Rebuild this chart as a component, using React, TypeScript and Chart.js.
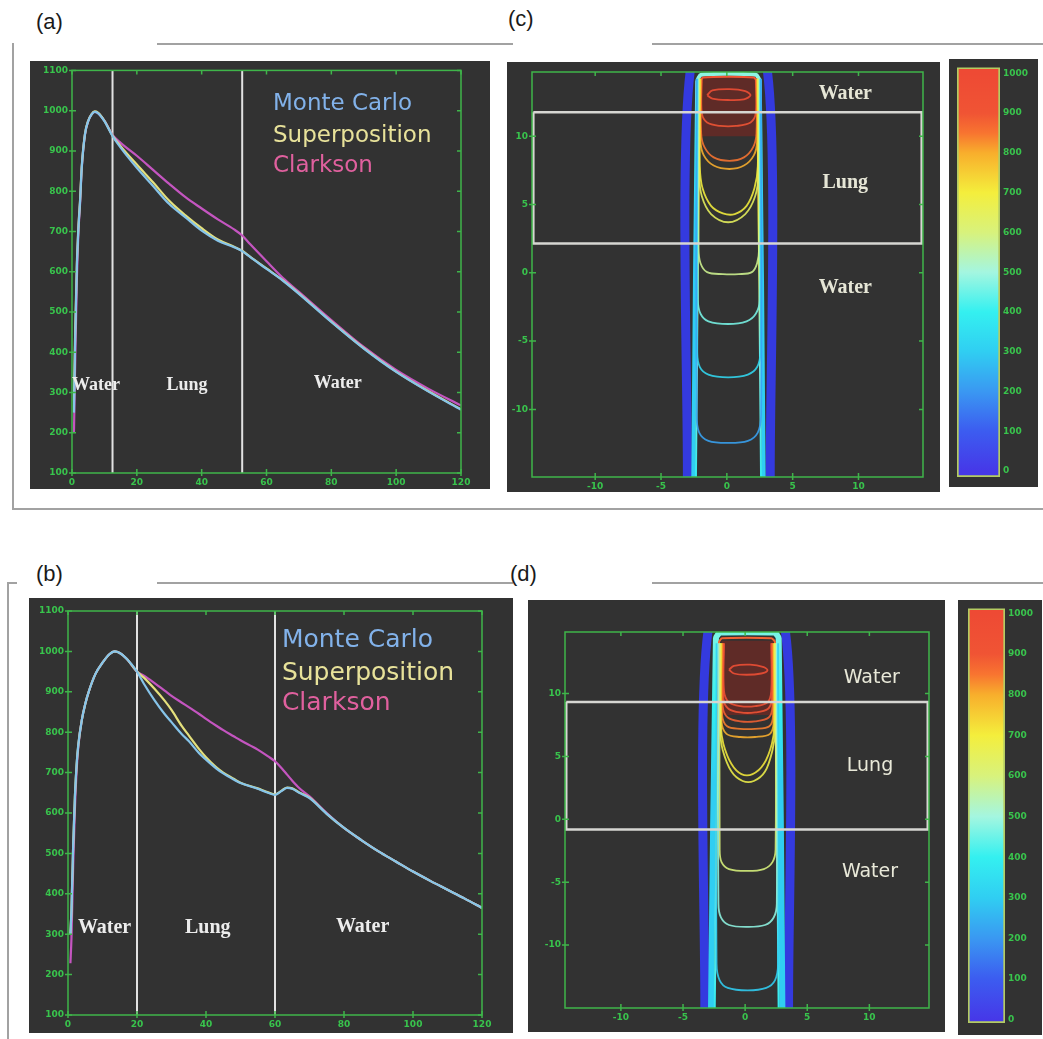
import React, { useEffect, useRef } from "react";
import { Chart, registerables } from "chart.js";
Chart.register(...registerables);

// ---------------- data ----------------
const SERIES_NAMES = ["Monte Carlo", "Superposition", "Clarkson"];
const SERIES_COLORS = ["#86c4ea", "#e4e07c", "#c455c0"];
const LEGEND_COLORS = ["#82b2ea", "#e8e29a", "#e0609e"];
const REGION_NAMES = ["Water", "Lung", "Water"];

const DEPTH_TICKS = [0, 20, 40, 60, 80, 100, 120];
const DOSE_TICKS = [100, 200, 300, 400, 500, 600, 700, 800, 900, 1000, 1100];
const MAP_TICKS = [-10, -5, 0, 5, 10];
const CBAR_TICKS = [0, 100, 200, 300, 400, 500, 600, 700, 800, 900, 1000];

// panel (a)
const DEPTH_A = [0.6, 1, 1.5, 2, 2.5, 3, 4, 5, 6, 7, 8, 10, 12.5, 15, 20, 25, 30, 35, 40, 45, 50, 52.5, 55, 60, 65, 70, 80, 90, 100, 110, 120];
const MC_A = [250, 440, 611, 710, 776, 858, 941, 974, 990, 997, 994, 974, 937, 908, 858, 813, 768, 735, 702, 677, 661, 651, 636, 607, 578, 545, 475, 409, 351, 302, 257];
const SP_A = [280, 460, 620, 715, 780, 860, 942, 975, 991, 998, 995, 975, 938, 912, 866, 822, 776, 740, 708, 680, 662, 652, 637, 608, 579, 546, 476, 410, 352, 303, 258];
const CL_A = [200, 380, 580, 700, 770, 855, 940, 974, 990, 997, 994, 975, 940, 920, 888, 853, 818, 785, 757, 730, 705, 690, 668, 626, 585, 550, 480, 413, 356, 309, 268];
const LUNG_A = [12.5, 52.5];

// panel (b)
const DEPTH_B = [0.7, 1, 1.5, 2, 2.5, 3, 4, 5, 6, 8, 10, 12, 13.5, 15, 17, 20, 22, 25, 28, 30, 33, 35, 38, 40, 43, 45, 48, 50, 55, 58, 60, 62, 63.5, 65, 67, 70, 75, 80, 85, 90, 95, 100, 105, 110, 115, 120];
const MC_B = [300, 360, 520, 640, 720, 770, 830, 870, 900, 945, 972, 993, 1000, 996, 982, 950, 920, 880, 845, 825, 795, 778, 748, 732, 710, 698, 683, 674, 660, 650, 645, 655, 662, 660, 650, 637, 598, 563, 533, 505, 480, 455, 432, 410, 388, 365];
const SP_B = [300, 360, 520, 640, 720, 770, 830, 870, 900, 945, 972, 993, 1000, 996, 982, 950, 935, 908, 878, 855, 815, 792, 758, 738, 713, 700, 685, 675, 661, 651, 646, 656, 663, 661, 651, 638, 598, 563, 533, 505, 480, 455, 432, 410, 388, 365];
const CL_B = [228, 290, 470, 610, 705, 765, 830, 870, 900, 945, 972, 993, 1000, 996, 982, 950, 940, 922, 903, 890, 873, 862, 845, 833, 816, 805, 790, 780, 757, 740, 728, 710, 695, 680, 662, 641, 600, 563, 533, 505, 480, 455, 432, 410, 388, 365];
const LUNG_B = [20, 60];

// colour scale (dose -> colour)
const CBAR_VALUES = [0, 100, 200, 300, 400, 500, 600, 700, 800, 850, 900, 1000];
const CBAR_COLORS = ["#4638e8", "#3c5cf0", "#3a98f2", "#30cef2", "#34f0f0", "#a4f6e0", "#d8f27c", "#f4ee3c", "#f8ae2c", "#f87430", "#f05434", "#ee4a34"];

// panel (c) dose map
const LUNG_SLAB_C = [2.15, 11.76];
const CONTOUR_LEVELS_C = [950, 900, 850, 800, 700, 650, 580, 460, 330, 220];
const CONTOURS_C = [
  [[-1.5, 13.0], [-1.1, 13.35], [0.2, 13.45], [1.4, 13.3], [1.8, 13.0], [1.3, 12.7], [0.1, 12.65], [-1.1, 12.75], [-1.5, 13.0]],
  [[-1.9, 14.2], [-1.9, 11.7], [-1.5, 11.0], [-0.5, 10.75], [0.7, 10.75], [1.8, 11.0], [2.2, 11.7], [2.2, 14.2]],
  [[-1.95, 14.2], [-1.95, 10.2], [-1.7, 9.2], [-1.0, 8.45], [0.2, 8.2], [1.3, 8.45], [2.0, 9.2], [2.25, 10.2], [2.25, 14.2]],
  [[-2.0, 14.2], [-2.0, 9.6], [-1.75, 8.6], [-1.0, 7.85], [0.2, 7.6], [1.3, 7.85], [2.05, 8.6], [2.3, 9.6], [2.3, 14.2]],
  [[-2.05, 14.2], [-2.05, 7.8], [-1.85, 6.2], [-1.2, 4.9], [-0.3, 4.35], [0.6, 4.3], [1.5, 4.9], [2.1, 6.2], [2.35, 7.8], [2.35, 14.2]],
  [[-2.1, 14.2], [-2.1, 7.2], [-1.9, 5.6], [-1.2, 4.3], [0.1, 3.7], [1.4, 4.3], [2.15, 5.6], [2.4, 7.2], [2.4, 14.2]],
  [[-2.15, 14.2], [-2.15, 1.8], [-2.0, 0.7], [-1.5, 0.05], [-0.3, -0.1], [0.9, -0.1], [1.9, 0.05], [2.3, 0.7], [2.45, 1.8], [2.45, 14.2]],
  [[-2.2, 14.2], [-2.2, -2.0], [-2.0, -3.0], [-1.4, -3.55], [0.1, -3.75], [1.5, -3.55], [2.2, -3.0], [2.5, -2.0], [2.5, 14.2]],
  [[-2.25, 14.2], [-2.25, -5.8], [-2.05, -6.9], [-1.4, -7.45], [0.1, -7.65], [1.6, -7.45], [2.3, -6.9], [2.55, -5.8], [2.55, 14.2]],
  [[-2.3, 14.2], [-2.3, -10.4], [-2.1, -11.7], [-1.4, -12.3], [0.1, -12.45], [1.6, -12.3], [2.35, -11.7], [2.6, -10.4], [2.6, 14.2]],
];
const BEAM_OUTER_C = [[-3.0, -15.2], [-2.65, 15.6], [2.95, 15.6], [3.3, -15.2]];
const BEAM_MID_C = [[-2.55, -15.2], [-2.25, 14.0], [-1.95, 14.5], [2.2, 14.5], [2.5, 14.0], [2.8, -15.2]];
const BEAM_EDGE_C = [[-2.35, -15.2], [-2.05, 13.9], [-1.8, 14.3], [2.05, 14.3], [2.3, 13.9], [2.6, -15.2]];
const BEAM_DOSE_C = [[14.5, 900], [10, 830], [4, 700], [0, 600], [-6, 470], [-15, 380]];
const HOT_ZONE_C = [[-2.0, 14.3], [2.25, 14.3]];
const HOT_FLOOR_C = 10.0;

// panel (d) dose map
const LUNG_SLAB_D = [-0.8, 9.33];
const CONTOUR_LEVELS_D = [960, 930, 910, 880, 840, 800, 710, 680, 600, 480, 300];
const CONTOURS_D = [
  [[-1.3, 11.9], [-0.9, 12.2], [0.4, 12.3], [1.5, 12.1], [1.8, 11.85], [1.3, 11.6], [0.1, 11.5], [-0.9, 11.6], [-1.3, 11.9]],
  [[-1.7, 14.0], [-1.7, 10.2], [-1.3, 9.3], [-0.4, 9.0], [0.8, 9.0], [1.8, 9.3], [2.1, 10.2], [2.1, 14.0]],
  [[-1.75, 14.0], [-1.75, 9.6], [-1.35, 8.8], [-0.4, 8.5], [0.8, 8.5], [1.85, 8.8], [2.15, 9.6], [2.15, 14.0]],
  [[-1.8, 14.0], [-1.8, 9.0], [-1.4, 8.1], [-0.4, 7.8], [0.8, 7.8], [1.9, 8.1], [2.2, 9.0], [2.2, 14.0]],
  [[-1.85, 14.0], [-1.85, 8.3], [-1.45, 7.4], [-0.4, 7.2], [0.8, 7.2], [1.95, 7.4], [2.25, 8.3], [2.25, 14.0]],
  [[-1.9, 14.0], [-1.9, 7.8], [-1.5, 6.8], [-0.4, 6.55], [0.8, 6.55], [2.0, 6.8], [2.3, 7.8], [2.3, 14.0]],
  [[-1.95, 14.0], [-1.95, 7.5], [-1.75, 6.0], [-1.1, 4.4], [-0.3, 3.6], [0.6, 3.6], [1.5, 4.4], [2.15, 6.0], [2.35, 7.5], [2.35, 14.0]],
  [[-2.0, 14.0], [-2.0, 7.0], [-1.8, 5.5], [-1.1, 3.8], [-0.2, 3.05], [0.7, 3.05], [1.6, 3.8], [2.2, 5.5], [2.4, 7.0], [2.4, 14.0]],
  [[-2.05, 14.0], [-2.05, -2.4], [-1.9, -3.4], [-1.3, -3.95], [0.2, -4.1], [1.5, -3.95], [2.2, -3.4], [2.45, -2.4], [2.45, 14.0]],
  [[-2.15, 14.0], [-2.15, -6.7], [-1.95, -7.8], [-1.3, -8.4], [0.2, -8.55], [1.6, -8.4], [2.3, -7.8], [2.55, -6.7], [2.55, 14.0]],
  [[-2.3, 14.0], [-2.3, -11.5], [-2.05, -12.8], [-1.4, -13.4], [0.2, -13.6], [1.7, -13.4], [2.4, -12.8], [2.65, -11.5], [2.65, 14.0]],
];
const BEAM_OUTER_D = [[-3.25, -15.3], [-2.85, 15.8], [3.1, 15.8], [3.5, -15.3]];
const BEAM_MID_D = [[-2.75, -15.3], [-2.35, 14.4], [-2.0, 14.85], [2.35, 14.85], [2.7, 14.4], [3.0, -15.3]];
const BEAM_EDGE_D = [[-2.45, -15.3], [-2.1, 14.1], [-1.85, 14.4], [2.1, 14.4], [2.4, 14.1], [2.7, -15.3]];
const BEAM_DOSE_D = [[14.5, 880], [9, 820], [3, 680], [-2, 560], [-8, 450], [-15, 380]];
const HOT_ZONE_D = [[-1.9, 14.2], [2.3, 14.2]];
const HOT_FLOOR_D = 8.3;

// ---------------- helpers ----------------
const GREEN = "#3fb54a";
const TICK_GREEN = "#38c44c";
const PANEL_BG = "#323232";
const TICK_FONT = { family: "DejaVu Sans", size: 9, weight: "bold" as const };

function hexToRgb(h: string) {
  return [parseInt(h.slice(1, 3), 16), parseInt(h.slice(3, 5), 16), parseInt(h.slice(5, 7), 16)];
}
function colorAt(v: number, a = 1) {
  let i = 0;
  while (i < CBAR_VALUES.length - 2 && v > CBAR_VALUES[i + 1]) i++;
  const t = Math.max(0, Math.min(1, (v - CBAR_VALUES[i]) / (CBAR_VALUES[i + 1] - CBAR_VALUES[i])));
  const c0 = hexToRgb(CBAR_COLORS[i]);
  const c1 = hexToRgb(CBAR_COLORS[i + 1]);
  const c = c0.map((x, k) => Math.round(x + (c1[k] - x) * t));
  return `rgba(${c[0]},${c[1]},${c[2]},${a})`;
}
function doseGradient(stops: number[][], a = 1) {
  return (ctx: any) => {
    const chart = ctx.chart;
    const area = chart.chartArea;
    if (!area || !chart.scales.y) return colorAt(stops[0][1], a);
    const ys = chart.scales.y;
    const g = chart.ctx.createLinearGradient(0, area.top, 0, area.bottom);
    stops.forEach(([y, v]) => {
      const p = (ys.getPixelForValue(y) - area.top) / (area.bottom - area.top);
      g.addColorStop(Math.max(0, Math.min(1, p)), colorAt(v, a));
    });
    return g;
  };
}

function poly(pts: number[][], color: any, width: number, extra: any = {}) {
  return {
    data: pts.map(([x, y]) => ({ x, y })),
    showLine: true,
    borderColor: color,
    borderWidth: width,
    pointRadius: 0,
    fill: false,
    tension: 0,
    ...extra,
  };
}

type Txt = { text: string; x: number; y: number; color: string; font: string; align?: CanvasTextAlign };

function overlayPlugin(texts: Txt[]) {
  return {
    id: "overlay",
    afterDatasetsDraw(chart: any) {
      const { ctx, chartArea: a, scales } = chart;
      ctx.save();
      ctx.strokeStyle = GREEN;
      ctx.lineWidth = 1.5;
      ctx.strokeRect(a.left, a.top, a.right - a.left, a.bottom - a.top);
      ctx.beginPath();
      for (const tk of scales.x.ticks) {
        const px = scales.x.getPixelForValue(tk.value);
        ctx.moveTo(px, a.top);
        ctx.lineTo(px, a.top + 4);
        ctx.moveTo(px, a.bottom - 4);
        ctx.lineTo(px, a.bottom + 3);
      }
      for (const tk of scales.y.ticks) {
        const py = scales.y.getPixelForValue(tk.value);
        ctx.moveTo(a.left - 3, py);
        ctx.lineTo(a.left + 4, py);
        ctx.moveTo(a.right - 4, py);
        ctx.lineTo(a.right, py);
      }
      ctx.stroke();
      ctx.textBaseline = "middle";
      for (const t of texts) {
        ctx.font = t.font;
        ctx.fillStyle = t.color;
        ctx.textAlign = t.align || "left";
        ctx.fillText(t.text, scales.x.getPixelForValue(t.x), scales.y.getPixelForValue(t.y));
      }
      ctx.restore();
    },
  };
}

const plainLabel = (v: any) => String(v);

function linAxis(min: number, max: number, ticks: number[], position: string, size: { w?: number; h?: number }) {
  return {
    type: "linear",
    position,
    min,
    max,
    afterBuildTicks: (s: any) => {
      s.ticks = ticks.map((v) => ({ value: v }));
    },
    afterFit: (s: any) => {
      if (size.w != null) s.width = size.w;
      if (size.h != null) s.height = size.h;
    },
    grid: { display: false, drawTicks: false },
    border: { display: false },
    ticks: { color: TICK_GREEN, font: TICK_FONT, padding: 4, autoSkip: false, maxRotation: 0, callback: plainLabel },
  };
}

function orderDatasets(ds: any[]) {
  ds.forEach((d, i) => (d.order = -i));
  return ds;
}

const BASE_OPTS = {
  responsive: false,
  animation: false,
  devicePixelRatio: 1,
  events: [],
};

function depthDoseConfig(p: {
  depth: number[]; mc: number[]; sp: number[]; cl: number[]; lung: number[];
  pad: any; yW: number; xH: number; legendX: number; legendY: number[]; legendFont: string;
  regions: number[][]; regionFont: string;
}) {
  const yMin = DOSE_TICKS[0];
  const yMax = DOSE_TICKS[DOSE_TICKS.length - 1];
  const ds: any[] = [];
  p.lung.forEach((d) => ds.push(poly([[d, yMin], [d, yMax]], "#e2e2e2", 2)));
  const series = [p.mc, p.sp, p.cl];
  [2, 1, 0].forEach((i) =>
    ds.push({
      ...poly(p.depth.map((d, k) => [d, series[i][k]]), SERIES_COLORS[i], 2.2),
      label: SERIES_NAMES[i],
      cubicInterpolationMode: "monotone",
    })
  );
  const texts: Txt[] = [];
  SERIES_NAMES.forEach((n, i) =>
    texts.push({ text: n, x: p.legendX, y: p.legendY[i], color: LEGEND_COLORS[i], font: p.legendFont })
  );
  REGION_NAMES.forEach((n, i) =>
    texts.push({ text: n, x: p.regions[i][0], y: p.regions[i][1], color: "#ececec", font: p.regionFont, align: "center" })
  );
  return {
    type: "scatter",
    data: { datasets: orderDatasets(ds) },
    options: {
      ...BASE_OPTS,
      layout: { padding: p.pad },
      plugins: { legend: { display: false }, tooltip: { enabled: false } },
      scales: {
        x: linAxis(DEPTH_TICKS[0], DEPTH_TICKS[DEPTH_TICKS.length - 1], DEPTH_TICKS, "bottom", { h: p.xH }),
        y: linAxis(yMin, yMax, DOSE_TICKS, "left", { w: p.yW }),
      },
    },
    plugins: [overlayPlugin(texts)],
  };
}

function doseMapConfig(p: {
  xr: number[]; yr: number[]; pad: any; yW: number; xH: number;
  slab: number[]; levels: number[]; contours: number[][][];
  outer: number[][]; mid: number[][]; edge: number[][]; beamDose: number[][];
  hot: number[][]; hotFloor: number;
  midW: number; labels: number[][]; labelFont: string; labelColor: string;
}) {
  const ds: any[] = [];
  ds.push(poly(p.hot, "rgba(0,0,0,0)", 0, { fill: { value: p.hotFloor }, backgroundColor: "rgba(112,40,34,0.72)" }));
  ds.push(poly(p.outer, "rgba(52,58,232,0.95)", 9, { tension: 0.2 }));
  ds.push(poly(p.mid, doseGradient(p.beamDose.map(([y, v]) => [y, Math.max(300, v - 420)]), 1), p.midW, { tension: 0.2 }));
  ds.push(poly(p.edge, doseGradient(p.beamDose, 1), 2, { tension: 0.2 }));
  p.contours.forEach((c, i) => ds.push(poly(c, colorAt(p.levels[i], 0.88), 1.8, { tension: 0.35 })));
  const [x0, x1] = p.xr;
  const [lo, hi] = p.slab;
  ds.push(poly([[x0 + 0.1, hi], [x1 - 0.1, hi], [x1 - 0.1, lo], [x0 + 0.1, lo], [x0 + 0.1, hi]], "#d6d6d2", 2.5));
  const texts: Txt[] = REGION_NAMES.map((n, i) => ({
    text: n, x: p.labels[i][0], y: p.labels[i][1], color: p.labelColor, font: p.labelFont, align: "center" as CanvasTextAlign,
  }));
  return {
    type: "scatter",
    data: { datasets: orderDatasets(ds) },
    options: {
      ...BASE_OPTS,
      layout: { padding: p.pad },
      plugins: { legend: { display: false }, tooltip: { enabled: false } },
      scales: {
        x: linAxis(p.xr[0], p.xr[1], MAP_TICKS, "bottom", { h: p.xH }),
        y: linAxis(p.yr[0], p.yr[1], MAP_TICKS, "left", { w: p.yW }),
      },
    },
    plugins: [overlayPlugin(texts)],
  };
}

function colorbarConfig(p: { yr: number[]; pad: any; yW: number }) {
  return {
    type: "bar",
    data: {
      labels: ["dose"],
      datasets: [
        {
          data: [[p.yr[0], p.yr[1]]],
          backgroundColor: (ctx: any) => {
            const chart = ctx.chart;
            const a = chart.chartArea;
            if (!a) return CBAR_COLORS[0];
            const ys = chart.scales.y;
            const g = chart.ctx.createLinearGradient(0, a.bottom, 0, a.top);
            CBAR_VALUES.forEach((v, i) => {
              const pos = (a.bottom - ys.getPixelForValue(v)) / (a.bottom - a.top);
              g.addColorStop(Math.max(0, Math.min(1, pos)), CBAR_COLORS[i]);
            });
            return g;
          },
          borderColor: "#b4cc62",
          borderWidth: 2,
          borderSkipped: false,
          barPercentage: 1,
          categoryPercentage: 1,
        },
      ],
    },
    options: {
      ...BASE_OPTS,
      layout: { padding: p.pad },
      plugins: { legend: { display: false }, tooltip: { enabled: false } },
      scales: {
        x: { display: false },
        y: {
          ...linAxis(p.yr[0], p.yr[1], CBAR_TICKS, "right", { w: p.yW }),
          ticks: { color: TICK_GREEN, font: TICK_FONT, padding: 3, autoSkip: false, callback: plainLabel },
        },
      },
    },
  };
}

function ChartBox({ left, top, width, height, config }: { left: number; top: number; width: number; height: number; config: () => any }) {
  const ref = useRef<HTMLCanvasElement | null>(null);
  useEffect(() => {
    const chart = new Chart(ref.current as HTMLCanvasElement, config());
    return () => chart.destroy();
  }, []);
  return (
    <canvas
      ref={ref}
      width={width}
      height={height}
      style={{ position: "absolute", left, top, width, height, background: PANEL_BG }}
    />
  );
}

const Line = ({ l, t, w, h }: { l: number; t: number; w: number; h: number }) => (
  <div style={{ position: "absolute", left: l, top: t, width: w, height: h, background: "#a2a2a2" }} />
);

const PanelLabel = ({ l, t, text }: { l: number; t: number; text: string }) => (
  <div style={{ position: "absolute", left: l, top: t, fontFamily: "'Liberation Sans', Arial, sans-serif", fontSize: 22, lineHeight: "26px", color: "#1a1a1a" }}>
    {text}
  </div>
);

export default function App() {
  return (
    <div style={{ position: "absolute", left: 0, top: 0, width: 1043, height: 1039, background: "#ffffff", overflow: "hidden" }}>
      {/* frames */}
      <Line l={157} t={43} w={356} h={2} />
      <Line l={652} t={43} w={391} h={2} />
      <Line l={12} t={43} w={2} h={467} />
      <Line l={12} t={508} w={1031} h={2} />
      <Line l={7} t={582} w={10} h={2} />
      <Line l={157} t={582} w={356} h={2} />
      <Line l={652} t={582} w={391} h={2} />
      <Line l={7} t={582} w={2} h={457} />

      <PanelLabel l={36} t={9} text="(a)" />
      <PanelLabel l={508} t={6} text="(c)" />
      <PanelLabel l={36} t={561} text="(b)" />
      <PanelLabel l={510} t={561} text="(d)" />

      <ChartBox
        left={30} top={61} width={460} height={428}
        config={() =>
          depthDoseConfig({
            depth: DEPTH_A, mc: MC_A, sp: SP_A, cl: CL_A, lung: LUNG_A,
            pad: { left: 0, top: 8, right: 29, bottom: 0 }, yW: 42, xH: 16,
            legendX: 62, legendY: [1016, 936, 862], legendFont: "23px 'DejaVu Sans'",
            regions: [[7.4, 318], [35.5, 318], [82, 322]], regionFont: "bold 18px 'Liberation Serif'",
          })
        }
      />
      <ChartBox
        left={29} top={598} width={484} height={435}
        config={() =>
          depthDoseConfig({
            depth: DEPTH_B, mc: MC_B, sp: SP_B, cl: CL_B, lung: LUNG_B,
            pad: { left: 0, top: 13, right: 31, bottom: 0 }, yW: 39, xH: 18,
            legendX: 62, legendY: [1028, 946, 872], legendFont: "25px 'DejaVu Sans'",
            regions: [[10.6, 315], [40.5, 315], [85.4, 318]], regionFont: "bold 20px 'Liberation Serif'",
          })
        }
      />
      <ChartBox
        left={507} top={62} width={433} height={430}
        config={() =>
          doseMapConfig({
            xr: [-14.8, 14.9], yr: [-14.95, 14.7], pad: { left: 0, top: 10, right: 17, bottom: 0 }, yW: 25, xH: 15,
            slab: LUNG_SLAB_C, levels: CONTOUR_LEVELS_C, contours: CONTOURS_C,
            outer: BEAM_OUTER_C, mid: BEAM_MID_C, edge: BEAM_EDGE_C, beamDose: BEAM_DOSE_C,
            hot: HOT_ZONE_C, hotFloor: HOT_FLOOR_C, midW: 4,
            labels: [[9.0, 13.1], [9.0, 6.6], [9.0, -1.1]], labelFont: "bold 20px 'Liberation Serif'", labelColor: "#e6e6d6",
          })
        }
      />
      <ChartBox
        left={949} top={59} width={89} height={428}
        config={() => colorbarConfig({ yr: [-15, 1015], pad: { left: 8, top: 8, right: 0, bottom: 10 }, yW: 38 })}
      />
      <ChartBox
        left={528} top={600} width={417} height={432}
        config={() =>
          doseMapConfig({
            xr: [-14.5, 14.8], yr: [-15, 14.9], pad: { left: 0, top: 32, right: 16, bottom: 0 }, yW: 37, xH: 24,
            slab: LUNG_SLAB_D, levels: CONTOUR_LEVELS_D, contours: CONTOURS_D,
            outer: BEAM_OUTER_D, mid: BEAM_MID_D, edge: BEAM_EDGE_D, beamDose: BEAM_DOSE_D,
            hot: HOT_ZONE_D, hotFloor: HOT_FLOOR_D, midW: 6,
            labels: [[10.2, 11.2], [10.05, 4.2], [10.05, -4.2]], labelFont: "19px 'DejaVu Sans'", labelColor: "#e8e8d8",
          })
        }
      />
      <ChartBox
        left={958} top={600} width={84} height={435}
        config={() => colorbarConfig({ yr: [-8, 1012], pad: { left: 10, top: 7, right: 0, bottom: 12 }, yW: 37 })}
      />
    </div>
  );
}
